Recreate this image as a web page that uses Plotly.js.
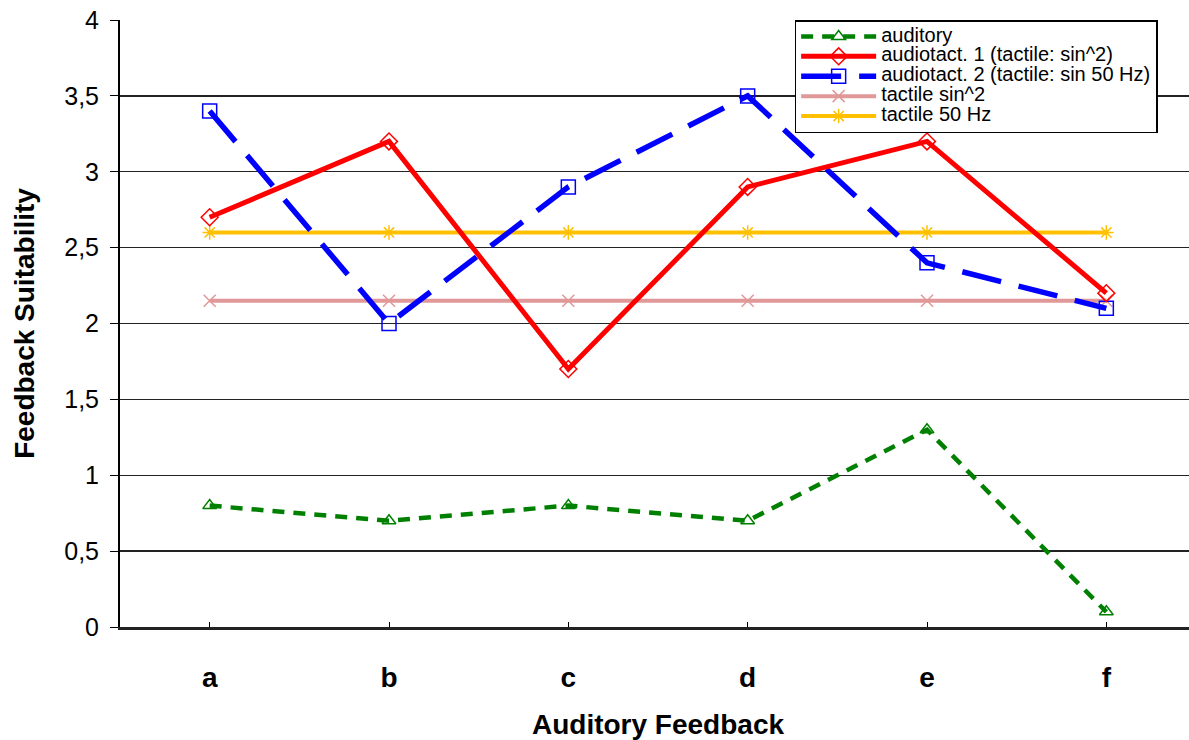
<!DOCTYPE html>
<html><head><meta charset="utf-8">
<script src="https://cdn.plot.ly/plotly-3.0.1.min.js"></script>
<style>html,body{margin:0;padding:0;overflow:hidden;background:#fff}</style>
</head><body><div id="chart"></div>
<script>
const categories = ['a','b','c','d','e','f'];
const auditory = [0.8, 0.7, 0.8, 0.7, 1.3, 0.1];
const audiotact1 = [2.7, 3.2, 1.7, 2.9, 3.2, 2.2];
const audiotact2 = [3.4, 2.0, 2.9, 3.5, 2.4, 2.1];
const tactileSin2 = [2.15, 2.15, 2.15, 2.15, 2.15, 2.15];
const tactile50 = [2.6, 2.6, 2.6, 2.6, 2.6, 2.6];
const yTicks = [0, 0.5, 1, 1.5, 2, 2.5, 3, 3.5, 4];
const seriesNames = ['auditory', 'audiotact. 1 (tactile: sin^2)', 'audiotact. 2 (tactile: sin 50 Hz)', 'tactile sin^2', 'tactile 50 Hz'];

const lg = s => '<span style="font-size:20px">' + s + '</span>';

const traces = [
  {x: categories, y: tactile50, name: lg(seriesNames[4]), mode: 'lines+markers', legendrank: 5,
   line: {color: '#ffc000', width: 4},
   marker: {symbol: 'asterisk-open', size: 12, color: '#ffc000', line: {width: 1.5, color: '#ffc000'}}},
  {x: categories, y: tactileSin2, name: lg(seriesNames[3]), mode: 'lines+markers', legendrank: 4,
   line: {color: '#e09898', width: 4},
   marker: {symbol: 'x-thin-open', size: 12, color: '#e09898', line: {width: 1.5, color: '#e09898'}}},
  {x: categories, y: audiotact2, name: lg(seriesNames[2]), mode: 'lines+markers', legendrank: 3,
   line: {color: '#0000ff', width: 5.5, dash: '40px,18px'},
   marker: {symbol: 'square-open', size: 14, color: '#0000ff', line: {width: 1.5}}},
  {x: categories, y: audiotact1, name: lg(seriesNames[1]), mode: 'lines+markers', legendrank: 2,
   line: {color: '#ff0000', width: 5},
   marker: {symbol: 'diamond-open', size: 13, color: '#ff0000', line: {width: 1.5}}},
  {x: categories, y: auditory, name: lg(seriesNames[0]), mode: 'lines+markers', legendrank: 1,
   line: {color: '#008000', width: 4.5, dash: '12px,9px'},
   marker: {symbol: 'triangle-up-open', size: 12, color: '#008000', line: {width: 1.5}}}
];

const layout = {
  width: 1196, height: 740,
  margin: {l: 120, r: 0, t: 20, b: 113},
  paper_bgcolor: '#fff', plot_bgcolor: '#fff',
  separators: ',.',
  font: {family: 'Liberation Sans, Arial, sans-serif', color: '#000'},
  showlegend: true,
  legend: {x: 0.627, y: 1, xanchor: 'left', yanchor: 'top', traceorder: 'normal',
    bgcolor: '#fff', bordercolor: '#000', borderwidth: 1.5,
    font: {size: 13, color: '#000'}, tracegroupgap: 0, itemwidth: 75},
  xaxis: {
    type: 'category', range: [-0.5, 5.5],
    showgrid: false, showline: true, linecolor: '#222', linewidth: 2.5,
    ticks: 'inside', ticklen: 5, tickcolor: '#000',
    ticklabelstandoff: 24,
    tickfont: {size: 28, family: 'Liberation Sans, Arial, sans-serif', weight: 'bold'},
    title: {text: '<b>Auditory Feedback</b>', font: {size: 28}, standoff: 25},
    zeroline: false, fixedrange: true
  },
  yaxis: {
    range: [0, 4], tickvals: yTicks,
    showgrid: true, gridcolor: '#222', gridwidth: 1.3,
    showline: true, linecolor: '#000', linewidth: 2,
    ticks: 'outside', ticklen: 8, tickcolor: '#000',
    ticklabelstandoff: 6,
    tickfont: {size: 25},
    title: {text: '<b>Feedback Suitability</b>', font: {size: 28}, standoff: 21},
    zeroline: false, fixedrange: true
  }
};
Plotly.newPlot('chart', traces, layout, {displayModeBar: false, staticPlot: true});
</script></body></html>
